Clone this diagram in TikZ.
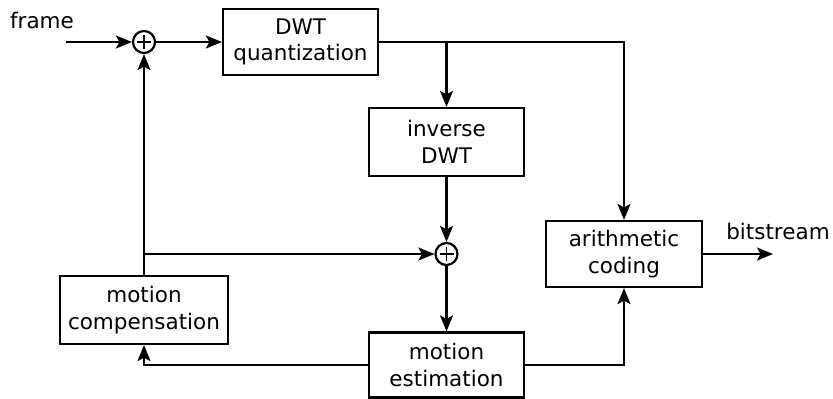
\documentclass[tikz,border=0pt]{standalone}
\usepackage{fontspec}
\setmainfont{DejaVu Sans}
\usetikzlibrary{arrows.meta,calc}
\begin{document}
\begin{tikzpicture}[x=1pt,y=-1pt,
  every node/.style={font=\fontsize{21.5}{26.5}\selectfont},
  blk/.style={draw,line width=2.2pt,align=center,inner sep=0pt},
  sumnode/.style={circle,draw,line width=2.2pt,minimum size=22pt,inner sep=0pt},
  conn/.style={line width=2.2pt},
  arr/.style={conn,-{Stealth[length=16pt,width=13pt,inset=3.5pt]}}
]
\useasboundingbox (0,0) rectangle (833,399);
\node[blk,minimum width=155pt,minimum height=66pt] (dwt) at (300.5,42) {DWT\\quantization};
\node[blk,minimum width=155pt,minimum height=68pt] (idwt) at (446.5,142) {inverse\\DWT};
\node[blk,minimum width=155pt,minimum height=65pt] (me) at (446.5,365) {motion\\estimation};
\node[blk,minimum width=156pt,minimum height=66pt] (ac) at (624,254) {arithmetic\\coding};
\node[blk,minimum width=168pt,minimum height=68pt] (mc) at (144,310) {motion\\compensation};
\node[sumnode] (add1) at (144,42) {};
\node[sumnode] (add2) at (446.5,254) {};
\foreach \s in {add1,add2}{
  \draw[line width=1.2pt] ($(\s)+(-7,0)$) -- ($(\s)+(7,0)$);
  \draw[line width=1.2pt] ($(\s)+(0,-7)$) -- ($(\s)+(0,7)$);
}
\node[inner sep=0pt] (lframe) at (42,20) {frame};
\node[inner sep=0pt] (lbit) at (778,231) {bitstream};
\coordinate (in) at (66,42);
\coordinate (out) at (773,254);
\coordinate (br1) at (idwt.north |- dwt.east);
\coordinate (br2) at (mc.north |- add2.west);
\draw[arr] (in) -- (add1.west);
\draw[arr] (add1.east) -- (dwt.west);
\draw[arr] (dwt.east) -| (ac.north);
\draw[arr] (br1) -- (idwt.north);
\draw[arr] (idwt.south) -- (add2.north);
\draw[arr] (add2.south) -- (me.north);
\draw[arr] (ac.east) -- (out);
\draw[arr] (me.east) -| (ac.south);
\draw[arr] (me.west) -| (mc.south);
\draw[arr] (mc.north) -- (add1.south);
\draw[arr] (br2) -- (add2.west);
\end{tikzpicture}
\end{document}
